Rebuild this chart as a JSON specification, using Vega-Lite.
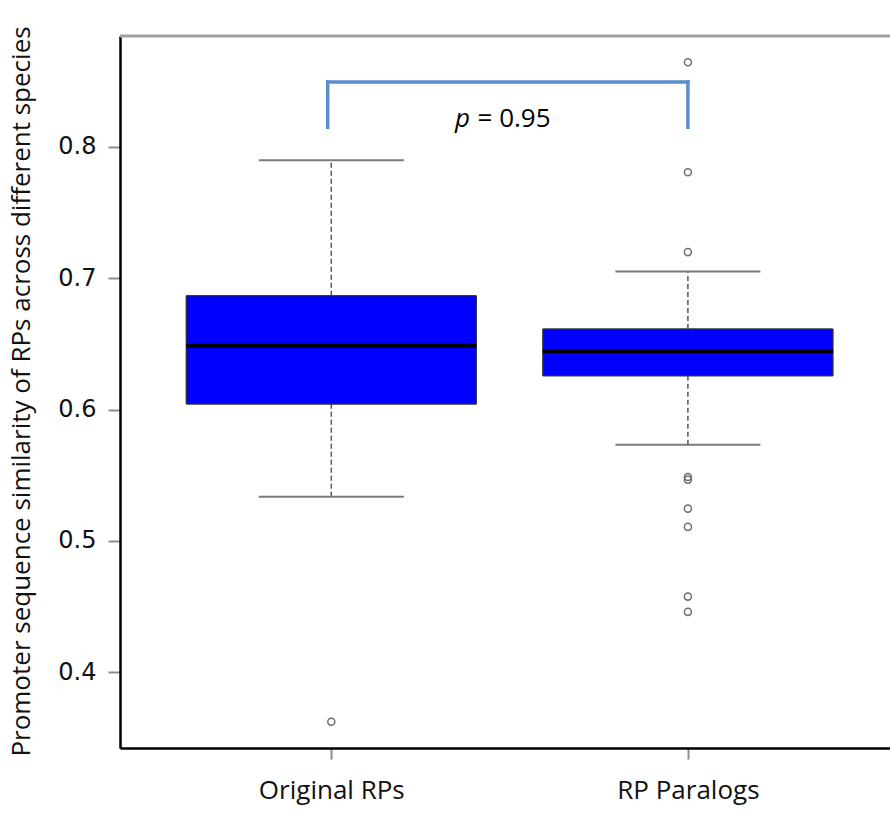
{
  "$schema": "https://vega.github.io/schema/vega-lite/v6.json",
  "width": 770,
  "height": 712,
  "autosize": {"type": "none"},
  "padding": {"left": 120, "top": 36, "right": 0, "bottom": 72},
  "background": "white",
  "config": {
    "view": {"stroke": null},
    "axis": {"grid": false},
    "axisY": {
      "domainColor": "#000000",
      "domainWidth": 2.5,
      "tickColor": "#8c8c8c",
      "tickWidth": 2,
      "tickSize": 12,
      "labelFont": "DejaVu Sans",
      "labelFontSize": 24,
      "labelColor": "#111111",
      "labelPadding": 12,
      "titleFont": "Open Sans",
      "titleFontSize": 26,
      "titleFontWeight": "normal",
      "titleColor": "#111111"
    },
    "axisX": {
      "domainColor": "#000000",
      "domainWidth": 2.5,
      "tickColor": "#8c8c8c",
      "tickWidth": 2,
      "tickSize": 11,
      "labelFont": "Open Sans",
      "labelFontSize": 26,
      "labelColor": "#111111",
      "labelPadding": 18
    }
  },
  "datasets": {
    "boxes": [
      {"group": 1, "lower": 0.5336, "q1": 0.6042, "median": 0.6486, "q3": 0.6866, "upper": 0.7899},
      {"group": 2, "lower": 0.5731, "q1": 0.6257, "median": 0.6443, "q3": 0.6613, "upper": 0.7051}
    ],
    "outliers": [
      {"group": 1, "value": 0.3622},
      {"group": 2, "value": 0.8645},
      {"group": 2, "value": 0.7807},
      {"group": 2, "value": 0.7199},
      {"group": 2, "value": 0.5486},
      {"group": 2, "value": 0.5466},
      {"group": 2, "value": 0.5245},
      {"group": 2, "value": 0.5106},
      {"group": 2, "value": 0.4575},
      {"group": 2, "value": 0.4459}
    ],
    "bracket": [
      {"x": 0.99, "x2": 2.0, "y": 0.8495, "y2": 0.8495},
      {"x": 0.99, "x2": 0.99, "y": 0.815, "y2": 0.8495},
      {"x": 2.0, "x2": 2.0, "y": 0.815, "y2": 0.8495}
    ],
    "annot": [
      {"x": 1.347, "y": 0.8152, "p": "p", "rest": "= 0.95", "xr": 1.41}
    ],
    "frame": [{"top": 0.8845}]
  },
  "layer": [
    {
      "data": {"name": "boxes"},
      "mark": {"type": "bar", "orient": "vertical", "size": 290, "fill": "#0000ff", "stroke": "#333333", "strokeWidth": 1},
      "encoding": {
        "x": {
          "field": "group", "type": "quantitative",
          "scale": {"domain": [0.4215, 2.5527], "nice": false, "zero": false},
          "axis": {"values": [1, 2], "title": null, "labelExpr": "datum.value == 1 ? 'Original RPs' : 'RP Paralogs'"}
        },
        "y": {
          "field": "q1", "type": "quantitative",
          "scale": {"domain": [0.3422, 0.8845], "nice": false, "zero": false},
          "axis": {"values": [0.4, 0.5, 0.6, 0.7, 0.8], "format": ".1f", "title": "Promoter sequence similarity  of RPs across different species", "titleX": -86, "titleY": 355, "titleAngle": -90, "titleAlign": "center", "titleBaseline": "bottom"}
        },
        "y2": {"field": "q3"}
      }
    },
    {
      "data": {"name": "frame"},
      "mark": {"type": "rule", "color": "#a0a0a0", "strokeWidth": 3},
      "encoding": {
        "y": {"field": "top", "type": "quantitative"}
      }
    },
    {
      "data": {"name": "boxes"},
      "mark": {"type": "rule", "color": "#555555", "strokeWidth": 1.5, "strokeDash": [5, 3]},
      "encoding": {
        "x": {"field": "group", "type": "quantitative"},
        "y": {"field": "q3", "type": "quantitative"},
        "y2": {"field": "upper"}
      }
    },
    {
      "data": {"name": "boxes"},
      "mark": {"type": "rule", "color": "#555555", "strokeWidth": 1.5, "strokeDash": [5, 3]},
      "encoding": {
        "x": {"field": "group", "type": "quantitative"},
        "y": {"field": "lower", "type": "quantitative"},
        "y2": {"field": "q1"}
      }
    },
    {
      "data": {"name": "boxes"},
      "mark": {"type": "tick", "orient": "horizontal", "size": 145, "thickness": 2, "color": "#7a7a7a", "opacity": 1},
      "encoding": {
        "x": {"field": "group", "type": "quantitative"},
        "y": {"field": "upper", "type": "quantitative"}
      }
    },
    {
      "data": {"name": "boxes"},
      "mark": {"type": "tick", "orient": "horizontal", "size": 145, "thickness": 2, "color": "#7a7a7a", "opacity": 1},
      "encoding": {
        "x": {"field": "group", "type": "quantitative"},
        "y": {"field": "lower", "type": "quantitative"}
      }
    },
    {
      "data": {"name": "boxes"},
      "mark": {"type": "bar", "orient": "vertical", "size": 290, "fill": "#0000ff", "stroke": "#333333", "strokeWidth": 1},
      "encoding": {
        "x": {"field": "group", "type": "quantitative"},
        "y": {"field": "q1", "type": "quantitative"},
        "y2": {"field": "q3"}
      }
    },
    {
      "data": {"name": "boxes"},
      "mark": {"type": "tick", "orient": "horizontal", "size": 290, "thickness": 4, "color": "#000000", "opacity": 1},
      "encoding": {
        "x": {"field": "group", "type": "quantitative"},
        "y": {"field": "median", "type": "quantitative"}
      }
    },
    {
      "data": {"name": "outliers"},
      "mark": {"type": "point", "shape": "circle", "filled": false, "stroke": "#6e6e6e", "strokeWidth": 1.5, "size": 50, "opacity": 1},
      "encoding": {
        "x": {"field": "group", "type": "quantitative"},
        "y": {"field": "value", "type": "quantitative"}
      }
    },
    {
      "data": {"name": "bracket"},
      "mark": {"type": "rule", "color": "#5b8fcb", "strokeWidth": 3.5, "strokeCap": "square"},
      "encoding": {
        "x": {"field": "x", "type": "quantitative"},
        "x2": {"field": "x2"},
        "y": {"field": "y", "type": "quantitative"},
        "y2": {"field": "y2"}
      }
    },
    {
      "data": {"name": "annot"},
      "mark": {"type": "text", "font": "Open Sans", "fontSize": 26, "fontStyle": "italic", "align": "left", "baseline": "alphabetic", "color": "#000000"},
      "encoding": {
        "x": {"field": "x", "type": "quantitative"},
        "y": {"field": "y", "type": "quantitative"},
        "text": {"field": "p"}
      }
    },
    {
      "data": {"name": "annot"},
      "mark": {"type": "text", "font": "Open Sans", "fontSize": 26, "align": "left", "baseline": "alphabetic", "color": "#000000"},
      "encoding": {
        "x": {"field": "xr", "type": "quantitative"},
        "y": {"field": "y", "type": "quantitative"},
        "text": {"field": "rest"}
      }
    }
  ]
}
